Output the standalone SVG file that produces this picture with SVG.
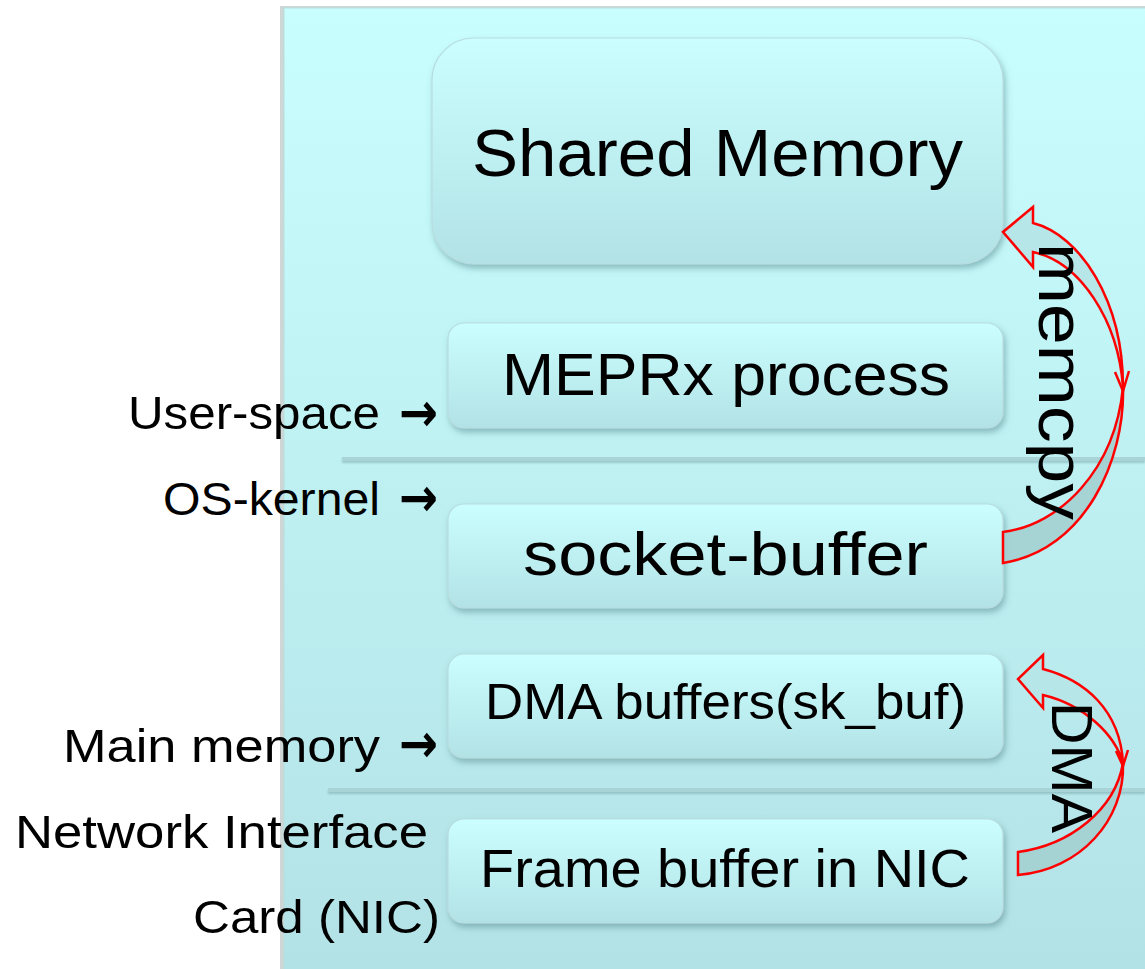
<svg xmlns="http://www.w3.org/2000/svg" width="1145" height="969" viewBox="0 0 1145 969">
<style>
.box{fill:url(#boxg);stroke:#b8dde0;stroke-width:1.2;filter:url(#sh)}
.t{font-family:"Liberation Sans",Arial,sans-serif;fill:#000}
.lab{font-family:"Liberation Sans",Arial,sans-serif;font-size:47px;fill:#000}
.arr{font-family:"DejaVu Sans",sans-serif;font-weight:bold;font-size:54px}
.sep{fill:#a8d4d8;filter:url(#sh2)}
.band{stroke:#ff0000;stroke-width:2.5;stroke-linejoin:miter}
</style>
<defs>
<linearGradient id="bg" x1="0" y1="0" x2="0" y2="1">
<stop offset="0" stop-color="#c9fefe"/>
<stop offset="1" stop-color="#b3e2e6"/>
</linearGradient>
<linearGradient id="boxg" x1="0" y1="0" x2="0" y2="1">
<stop offset="0" stop-color="#cbfefe"/>
<stop offset="1" stop-color="#b2e2e6"/>
</linearGradient>
<filter id="sh" x="-10%" y="-20%" width="120%" height="150%">
<feDropShadow dx="2" dy="4" stdDeviation="3" flood-color="#4f8388" flood-opacity="0.5"/>
</filter>
<filter id="sh2" filterUnits="userSpaceOnUse" x="0" y="0" width="1145" height="969">
<feDropShadow dx="0" dy="2" stdDeviation="1" flood-color="#6f9fa3" flood-opacity="0.5"/>
</filter>
</defs>
<rect x="0" y="0" width="1145" height="969" fill="#ffffff"/>
<g id="panel">
<rect x="280" y="6" width="870" height="970" fill="#cfd6d6"/>
<rect x="284" y="8" width="866" height="965" fill="url(#bg)" stroke="#b8dde0" stroke-width="1"/>
<rect class="sep" x="342" y="457" width="803" height="4"/>
<rect class="sep" x="328" y="788" width="817" height="4"/>
</g>
<g id="node-shared-memory">
<rect class="box" x="432" y="38" width="571" height="226" rx="42"/>
<text class="t" x="472" y="176" font-size="66" textLength="491" lengthAdjust="spacingAndGlyphs">Shared Memory</text>
</g>
<g id="node-meprx">
<rect class="box" x="448" y="323" width="555" height="105" rx="16"/>
<text class="t" x="502" y="395" font-size="60" textLength="448" lengthAdjust="spacingAndGlyphs">MEPRx process</text>
</g>
<g id="node-socket-buffer">
<rect class="box" x="448" y="504" width="555" height="104" rx="16"/>
<text class="t" x="523" y="575" font-size="61" textLength="405" lengthAdjust="spacingAndGlyphs">socket-buffer</text>
</g>
<g id="node-dma-buffers">
<rect class="box" x="448" y="654" width="555" height="104" rx="16"/>
<text class="t" x="485" y="719" font-size="50" textLength="481" lengthAdjust="spacingAndGlyphs">DMA buffers(sk_buf)</text>
</g>
<g id="node-frame-buffer">
<rect class="box" x="448" y="819" width="555" height="104" rx="16"/>
<text class="t" x="480" y="887" font-size="53" textLength="490" lengthAdjust="spacingAndGlyphs">Frame buffer in NIC</text>
</g>
<g id="labels">
<text class="lab"><tspan x="128" y="429" textLength="252" lengthAdjust="spacingAndGlyphs">User-space</tspan><tspan class="arr" x="399" y="431" textLength="39" lengthAdjust="spacingAndGlyphs">→</tspan></text>
<text class="lab"><tspan x="163" y="515" textLength="217" lengthAdjust="spacingAndGlyphs">OS-kernel</tspan><tspan class="arr" x="399" y="516" textLength="39" lengthAdjust="spacingAndGlyphs">→</tspan></text>
<text class="lab"><tspan x="63" y="762" textLength="317" lengthAdjust="spacingAndGlyphs">Main memory</tspan><tspan class="arr" x="399" y="762" textLength="39" lengthAdjust="spacingAndGlyphs">→</tspan></text>
<text class="lab" x="15" y="848" textLength="413" lengthAdjust="spacingAndGlyphs">Network Interface</text>
<text class="lab" x="193" y="933" textLength="247" lengthAdjust="spacingAndGlyphs">Card (NIC)</text>
</g>
<g id="connectors">
<g id="memcpy-arrow">
<path class="band" fill="#b6e6e8" d="M1033,223 C1080,235 1123,300 1123,387 C1118,320 1080,262 1033,252 L1033,267 L1003,232 L1033,207 Z"/>
<path class="band" fill="#a3d0d1" fill-opacity="0.9" d="M1123,387 C1125,460 1085,550 1003,563 L1003,532 C1060,525 1115,470 1123,387 Z"/>
<path class="band" fill="none" d="M1115,372 L1123,391 L1129,371"/>
<text class="t" x="1039" y="243" font-size="64" textLength="277" lengthAdjust="spacingAndGlyphs" transform="rotate(90 1039 243)">memcpy</text>
</g>
<g id="dma-arrow">
<path class="band" fill="#b6e6e8" d="M1043,669 C1085,680 1120,710 1123,763 C1115,735 1085,705 1043,695 L1043,708 L1018,679 L1043,655 Z"/>
<path class="band" fill="#a3d0d1" fill-opacity="0.9" d="M1123,763 C1125,820 1080,870 1018,875 L1018,852 C1070,845 1115,810 1123,763 Z"/>
<path class="band" fill="none" d="M1116,751 L1123,766 L1128,750"/>
<text class="t" x="1052" y="702" font-size="57" textLength="131" lengthAdjust="spacingAndGlyphs" transform="rotate(90 1052 702)">DMA</text>
</g>
</g>
</svg>
